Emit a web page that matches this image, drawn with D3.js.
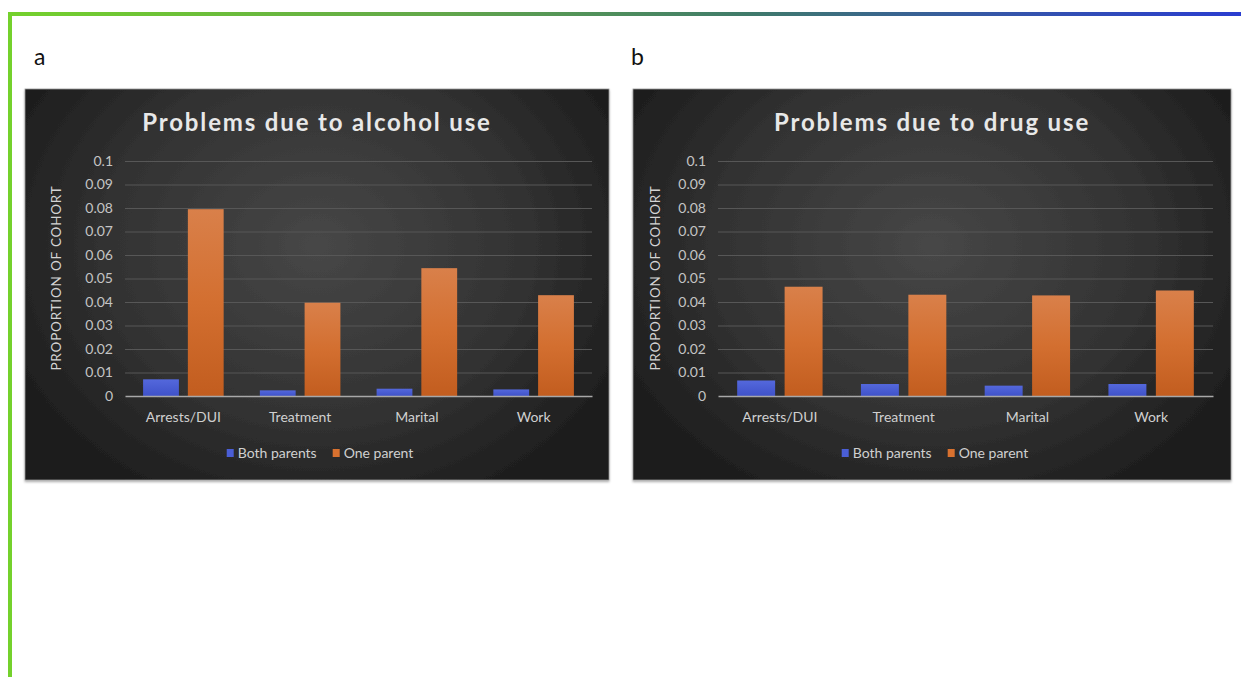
<!DOCTYPE html>
<html>
<head>
<meta charset="utf-8">
<script src="https://cdn.jsdelivr.net/npm/d3@7"></script>
<style>
  html, body { margin: 0; padding: 0; background: #ffffff; }
  svg { display: block; }
</style>
</head>
<body>
<svg id="fig" width="1241" height="677"></svg>
<script>
// ---- data ----
const categories = ["Arrests/DUI", "Treatment", "Marital", "Work"];
const seriesNames = ["Both parents", "One parent"];
const alcoholBoth = [0.0071, 0.0024, 0.0031, 0.0028];
const alcoholOne  = [0.0795, 0.0397, 0.0544, 0.0429];
const drugBoth    = [0.0066, 0.0051, 0.0044, 0.0051];
const drugOne     = [0.0465, 0.0431, 0.0428, 0.0449];
const yTickValues = [0, 0.01, 0.02, 0.03, 0.04, 0.05, 0.06, 0.07, 0.08, 0.09, 0.1];
const yTickLabels = ["0", "0.01", "0.02", "0.03", "0.04", "0.05", "0.06", "0.07", "0.08", "0.09", "0.1"];
const panelTitles = ["Problems due to alcohol use", "Problems due to drug use"];
const panelLetters = ["a", "b"];
const yAxisTitle = "PROPORTION OF COHORT";

const FONT = "Lato, 'Open Sans', sans-serif";
const svg = d3.select("#fig");
const defs = svg.append("defs");

// frame: gradient top rule and green left rule
const frameGrad = defs.append("linearGradient").attr("id", "frameGrad")
  .attr("x1", "0%").attr("x2", "100%").attr("y1", "0%").attr("y2", "0%");
frameGrad.append("stop").attr("offset", "0%").attr("stop-color", "#74d12c");
frameGrad.append("stop").attr("offset", "35%").attr("stop-color", "#62a74a");
frameGrad.append("stop").attr("offset", "60%").attr("stop-color", "#3f7a6a");
frameGrad.append("stop").attr("offset", "80%").attr("stop-color", "#3556a8");
frameGrad.append("stop").attr("offset", "100%").attr("stop-color", "#2a3dd0");
svg.append("rect").attr("x", 8).attr("y", 12).attr("width", 1233).attr("height", 4)
  .attr("fill", "url(#frameGrad)");
svg.append("rect").attr("x", 8).attr("y", 12).attr("width", 4).attr("height", 665)
  .attr("fill", "#74d12c");

// panel background + bar gradients
const bgGrad = defs.append("radialGradient").attr("id", "bgGrad")
  .attr("cx", "50%").attr("cy", "40%").attr("r", "62%")
  .attr("gradientTransform", "translate(0.5,0.4) scale(1,1.25) translate(-0.5,-0.4)");
bgGrad.append("stop").attr("offset", "0%").attr("stop-color", "#474747");
bgGrad.append("stop").attr("offset", "55%").attr("stop-color", "#333333");
bgGrad.append("stop").attr("offset", "100%").attr("stop-color", "#1a1a1a");

const blueGrad = defs.append("linearGradient").attr("id", "blueGrad")
  .attr("x1", 0).attr("x2", 0).attr("y1", 0).attr("y2", 1);
blueGrad.append("stop").attr("offset", "0%").attr("stop-color", "#5468dc");
blueGrad.append("stop").attr("offset", "100%").attr("stop-color", "#3f52c9");
const orangeGrad = defs.append("linearGradient").attr("id", "orangeGrad")
  .attr("x1", 0).attr("x2", 0).attr("y1", 0).attr("y2", 1);
orangeGrad.append("stop").attr("offset", "0%").attr("stop-color", "#d9804a");
orangeGrad.append("stop").attr("offset", "50%").attr("stop-color", "#d36f30");
orangeGrad.append("stop").attr("offset", "100%").attr("stop-color", "#c25d1f");
const seriesFill = ["url(#blueGrad)", "url(#orangeGrad)"];
const seriesKey = ["#4a5ed6", "#d8712f"];

const shadow = defs.append("filter").attr("id", "panelShadow")
  .attr("x", "-2%").attr("y", "-2%").attr("width", "104%").attr("height", "106%");
shadow.append("feDropShadow").attr("dx", 0).attr("dy", 1.5).attr("stdDeviation", 1.2)
  .attr("flood-color", "#000").attr("flood-opacity", 0.35);

const panels = [
  { x: 25, y: 89, w: 584, h: 391, plotL: 125, plotR: 592, letterX: 34, titleX: 56,
    both: alcoholBoth, one: alcoholOne },
  { x: 633, y: 89, w: 598, h: 391, plotL: 718, plotR: 1213, letterX: 631, titleX: 655,
    both: drugBoth, one: drugOne }
];

panels.forEach((p, i) => {
  const g = svg.append("g");

  g.append("text").attr("x", p.letterX).attr("y", 65)
    .attr("font-family", FONT).attr("font-size", 23).attr("fill", "#111")
    .text(panelLetters[i]);

  g.append("rect").attr("x", p.x).attr("y", p.y).attr("width", p.w).attr("height", p.h)
    .attr("fill", "url(#bgGrad)").attr("stroke", "#9a9a9a").attr("stroke-width", 0.8)
    .attr("filter", "url(#panelShadow)");

  g.append("text").attr("x", p.x + p.w / 2).attr("y", 131)
    .attr("text-anchor", "middle").attr("font-family", FONT).attr("font-weight", 700)
    .attr("font-size", 24).attr("letter-spacing", 1.85).attr("fill", "#e8e8e8")
    .text(panelTitles[i]);

  const y = d3.scaleLinear().domain([0, 0.1]).range([396, 161]);
  const x0 = d3.scaleBand().domain(categories).range([p.plotL, p.plotR])
    .paddingInner(0.31).paddingOuter(0.155);
  const x1 = d3.scaleBand().domain(seriesNames).range([0, x0.bandwidth()]).paddingInner(0.2);

  // gridlines
  const grid = d3.axisLeft(y).tickValues(yTickValues.slice(1))
    .tickSize(-(p.plotR - p.plotL)).tickFormat("");
  g.append("g").attr("transform", `translate(${p.plotL},0)`).call(grid)
    .call(s => s.select(".domain").remove())
    .call(s => s.selectAll("line").attr("stroke", "#575757").attr("stroke-width", 1));

  // y tick labels
  const yAxis = d3.axisLeft(y).tickValues(yTickValues).tickSize(0).tickPadding(12)
    .tickFormat((d, k) => yTickLabels[k]);
  g.append("g").attr("transform", `translate(${p.plotL},0)`).call(yAxis)
    .call(s => s.select(".domain").remove())
    .call(s => s.selectAll("text").attr("font-family", FONT).attr("font-size", 14)
      .attr("fill", "#c4c4c4"));

  // y axis title
  g.append("text")
    .attr("transform", `translate(${p.titleX},${278}) rotate(-90)`)
    .attr("text-anchor", "middle").attr("dy", "0.35em").attr("font-family", FONT)
    .attr("font-size", 13.5).attr("letter-spacing", 0.8).attr("fill", "#d4d4d4")
    .text(yAxisTitle);

  // bars
  const rows = categories.map((c, k) => ({ cat: c, vals: [p.both[k], p.one[k]] }));
  const groups = g.append("g").selectAll("g").data(rows).join("g")
    .attr("transform", d => `translate(${x0(d.cat)},0)`);
  groups.selectAll("rect").data(d => d.vals.map((v, s) => ({ s, v }))).join("rect")
    .attr("x", d => x1(seriesNames[d.s]))
    .attr("width", x1.bandwidth())
    .attr("y", d => y(d.v))
    .attr("height", d => y(0) - y(d.v))
    .attr("fill", d => seriesFill[d.s]);

  // baseline + category labels
  const xAxis = d3.axisBottom(x0).tickSize(0).tickPadding(16);
  g.append("g").attr("transform", `translate(0,${y(0)})`).call(xAxis)
    .call(s => s.select(".domain").attr("stroke", "#a8a8a8").attr("stroke-width", 1.6))
    .call(s => s.selectAll("text").attr("font-family", FONT).attr("font-size", 14)
      .attr("fill", "#d0d0d0"));

  // legend
  const legend = g.append("g").attr("transform", `translate(${p.x + p.w / 2 + 3},453)`);
  const items = legend.selectAll("g").data(seriesNames).join("g");
  items.append("rect").attr("width", 7).attr("height", 8).attr("y", -4)
    .attr("fill", (d, s) => seriesKey[s]);
  items.append("text").attr("x", 11).attr("y", 0).attr("dy", "0.35em")
    .attr("font-family", FONT).attr("font-size", 14).attr("fill", "#d0d0d0")
    .text(d => d);
  let widths = [];
  items.each(function () { widths.push(this.getBBox().width); });
  const gap = 16;
  const total = widths[0] + gap + widths[1];
  let cx = -total / 2;
  items.attr("transform", (d, s) => {
    const t = `translate(${cx},0)`;
    cx += widths[s] + gap;
    return t;
  });
});
</script>
</body>
</html>
